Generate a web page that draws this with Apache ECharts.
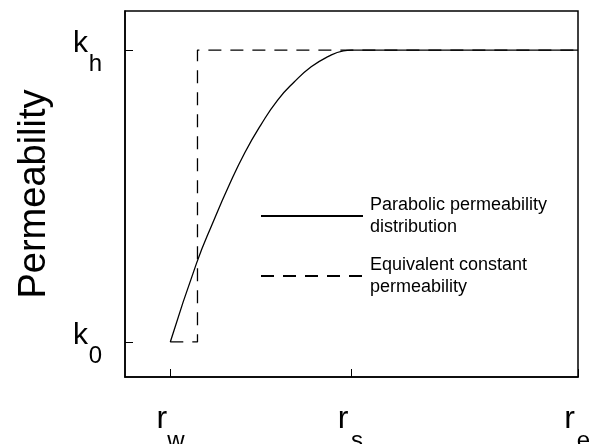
<!DOCTYPE html>
<html>
<head>
<meta charset="utf-8">
<script src="https://cdn.jsdelivr.net/npm/echarts@6/dist/echarts.min.js"></script>
<style>
  html, body { margin: 0; padding: 0; background: #fff; }
  #chart { width: 595px; height: 444px; }
</style>
</head>
<body>
<div id="chart"></div>
<script>
// radius positions (arbitrary units): r_w, r_s, r_e
const xTicks = [1, 5, 10]
const xSubs = ['w', 's', 'e']
// permeability levels: k_0, k_h
const yTicks = [1, 9]
const ySubs = ['0', 'h']

// parabolic permeability distribution
const parabolicX = [1, 1.58, 1.95, 2.3, 2.65, 3.0, 3.37, 3.74, 4.11, 4.48, 4.82, 5, 10]
const parabolicY = [1, 3.16, 4.3, 5.3, 6.2, 6.95, 7.63, 8.13, 8.54, 8.82, 8.98, 9, 9]

// equivalent constant permeability (step)
const equivX = [1, 1.6, 1.6, 10]
const equivY = [1, 1, 9, 9]

const zip = (a, b) => a.map((v, i) => [v, b[i]])

const font = 'Liberation Sans, Arial, sans-serif'

const option = {
  backgroundColor: '#fff',
  animation: false,
  grid: {
    left: 125, right: 17, top: 11, bottom: 67,
    outerBoundsMode: 'none',
    containLabel: false,
    show: true, borderColor: '#000', borderWidth: 1.5
  },
  legend: {
    orient: 'vertical',
    left: 255,
    top: 189,
    itemWidth: 102,
    itemHeight: 14,
    itemGap: 16,
    itemStyle: { opacity: 0 },
    textStyle: { fontFamily: font, fontSize: 18, color: '#000', lineHeight: 22, padding: [0, 0, 0, 2] },
    data: ['Parabolic permeability\ndistribution', 'Equivalent constant\npermeability']
  },
  xAxis: {
    type: 'value',
    min: 0, max: 10,
    splitLine: { show: false },
    axisLine: { lineStyle: { color: '#000', width: 1.5 } },
    axisTick: { inside: true, length: 8, customValues: xTicks, lineStyle: { color: '#000' } },
    axisLabel: {
      customValues: xTicks,
      margin: 28,
      formatter: v => '{m|r}{gap|}\n{pad|}{s|' + xSubs[xTicks.indexOf(v)] + '}',
      rich: {
        m: { fontFamily: font, fontSize: 32, color: '#000', lineHeight: 28, width: 11 },
        gap: { width: 17, lineHeight: 28 },
        pad: { width: 11, lineHeight: 16 },
        s: { fontFamily: font, fontSize: 24, color: '#000', lineHeight: 16, width: 17 }
      }
    }
  },
  yAxis: {
    type: 'value',
    min: 0.04, max: 10.07,
    name: 'Permeability',
    nameLocation: 'middle',
    nameGap: 71,
    nameTextStyle: { fontFamily: font, fontSize: 38, color: '#000' },
    splitLine: { show: false },
    axisLine: { lineStyle: { color: '#000', width: 1.5 } },
    axisTick: { inside: true, length: 8, customValues: yTicks, lineStyle: { color: '#000' } },
    axisLabel: {
      customValues: yTicks,
      margin: 23,
      formatter: v => '{m|k}{gap|}\n{pad|}{s|' + ySubs[yTicks.indexOf(v)] + '}',
      rich: {
        m: { fontFamily: font, fontSize: 30, color: '#000', lineHeight: 28, width: 15 },
        gap: { width: 14, lineHeight: 28 },
        pad: { width: 15, lineHeight: 12 },
        s: { fontFamily: font, fontSize: 24, color: '#000', lineHeight: 12, width: 14 }
      }
    }
  },
  series: [
    {
      name: 'Parabolic permeability\ndistribution',
      type: 'line',
      data: zip(parabolicX, parabolicY),
      smooth: 0.5,
      symbol: 'none',
      itemStyle: { color: '#000' },
      lineStyle: { color: '#000', width: 1.3, type: 'solid' }
    },
    {
      name: 'Equivalent constant\npermeability',
      type: 'line',
      data: zip(equivX, equivY),
      symbol: 'none',
      itemStyle: { color: '#000' },
      lineStyle: { color: '#000', width: 1.3, type: [13, 9] }
    }
  ]
}

const myChart = echarts.init(document.getElementById('chart'))
myChart.setOption(option)
</script>
</body>
</html>
